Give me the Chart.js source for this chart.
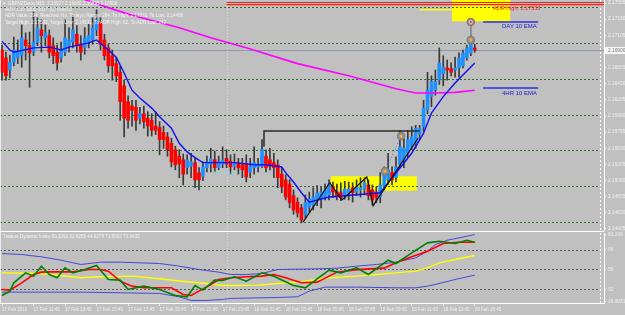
<!DOCTYPE html>
<html>
<head>
<meta charset="utf-8">
<script src="https://cdn.jsdelivr.net/npm/chart.js@4.4.1/dist/chart.umd.min.js"></script>
<style>
html, body { margin: 0; padding: 0; background: #c0c0c0; }
#wrap { position: relative; width: 625px; height: 315px; overflow: hidden; background: #c0c0c0; font-family: 'Liberation Sans', Arial, sans-serif; }
canvas { position: absolute; left: 0; }
#main { top: 0; }
#tdi { top: 232px; }
.t { position: absolute; white-space: nowrap; font-size: 4.6px; line-height: 6px; color: #f4f4f4; z-index: 5; }
.sep { position: absolute; background: #ffffff; z-index: 4; }
</style>
</head>
<body>
<div id="wrap">
  <canvas id="main" width="625" height="231"></canvas>
  <canvas id="tdi" width="625" height="83"></canvas>
  <div class="sep" style="left:0;top:231px;width:604px;height:1px;"></div>
  <div class="sep" style="left:0;top:0;width:1px;height:303px;opacity:.7"></div>

  <div class="t" style="left:2px;top:1px;">&#9660; GBPNZDecn,M15&nbsp; 2.16927 2.16930 2.16895 2.16900</div>
  <div class="t" style="left:5px;top:7px;">ADR 1.30 2005-2017 (C) Mod 01</div>
  <div class="t" style="left:5px;top:13px;">ADR Value: 294, Reached: No, Today's Range: 284, To High: 2.17533, To Low: 2.14466</div>
  <div class="t" style="left:5px;top:20px;">Target High: 2.17533, Target Low: 2.14531, To ADR High: 62, To ADR Low: 242</div>
  <div class="t" style="left:493px;top:5px;color:#ff2020;font-size:5.5px;">ADR High: 2.17533</div>
  <div class="t" style="left:502px;top:23px;color:#2020d0;font-size:6px;">DAY 10 EMA</div>
  <div class="t" style="left:502px;top:90px;color:#2020d0;font-size:6px;">4HR 10 EMA</div>
  <div class="t" style="left:213px;top:170px;color:#9ccfdc;font-size:5px;">ASIA Start</div>
  <div class="t" style="left:3px;top:234px;">Traders Dynamic Index 80.3292 62.6285 44.9279 71.9502 73.9435</div>
</div>
<script>
// GBPNZD M15, 17 Feb 2016 09:45 -> 18 Feb 2016 15:45 (121 bars)

const candleOpen = [
  2.1690, 2.1679, 2.1662, 2.1673, 2.1679, 2.1683, 2.1704, 2.1696, 2.1687, 2.1701,
  2.1718, 2.1707, 2.1710, 2.1696, 2.1687, 2.1679, 2.1687, 2.1696, 2.1701, 2.1712,
  2.1698, 2.1693, 2.1701, 2.1704, 2.1718, 2.1728, 2.1704, 2.1693, 2.1682, 2.1671,
  2.1659, 2.1640, 2.1618, 2.1612, 2.1610, 2.1595, 2.1601, 2.1595, 2.1592, 2.1584,
  2.1582, 2.1575, 2.1569, 2.1560, 2.1551, 2.1542, 2.1537, 2.1526, 2.1528, 2.1533,
  2.1519, 2.1514, 2.1526, 2.1531, 2.1537, 2.1526, 2.1531, 2.1539, 2.1535, 2.1528,
  2.1533, 2.1530, 2.1531, 2.1520, 2.1526, 2.1527, 2.1528, 2.1542, 2.1537, 2.1533,
  2.1530, 2.1517, 2.1509, 2.1503, 2.1487, 2.1478, 2.1470, 2.1460, 2.1471, 2.1474,
  2.1481, 2.1484, 2.1485, 2.1488, 2.1500, 2.1492, 2.1491, 2.1487, 2.1491, 2.1498,
  2.1492, 2.1495, 2.1496, 2.1502, 2.1495, 2.1492, 2.1485, 2.1500, 2.1509, 2.1519,
  2.1512, 2.1531, 2.1537, 2.1546, 2.1555, 2.1560, 2.1573, 2.1583, 2.1606, 2.1625,
  2.1634, 2.1648, 2.1657, 2.1665, 2.1664, 2.1662, 2.1665, 2.1668, 2.1679, 2.1686,
  2.1693
];
const candleHigh = [
  2.1697, 2.1687, 2.1683, 2.1708, 2.1704, 2.1725, 2.1714, 2.1715, 2.1743, 2.1735,
  2.1732, 2.1725, 2.1718, 2.1707, 2.1697, 2.1701, 2.1732, 2.1721, 2.1738, 2.1724,
  2.1710, 2.1721, 2.1726, 2.1735, 2.1746, 2.1735, 2.1712, 2.1698, 2.1690, 2.1679,
  2.1668, 2.1648, 2.1626, 2.1620, 2.1620, 2.1610, 2.1612, 2.1604, 2.1601, 2.1604,
  2.1590, 2.1584, 2.1575, 2.1567, 2.1556, 2.1551, 2.1545, 2.1544, 2.1546, 2.1539,
  2.1526, 2.1534, 2.1542, 2.1553, 2.1549, 2.1542, 2.1555, 2.1551, 2.1544, 2.1545,
  2.1539, 2.1539, 2.1544, 2.1539, 2.1555, 2.1539, 2.1565, 2.1551, 2.1553, 2.1546,
  2.1537, 2.1526, 2.1516, 2.1509, 2.1495, 2.1484, 2.1475, 2.1488, 2.1492, 2.1498,
  2.1501, 2.1499, 2.1503, 2.1509, 2.1506, 2.1503, 2.1505, 2.1507, 2.1506, 2.1505,
  2.1509, 2.1512, 2.1512, 2.1509, 2.1502, 2.1499, 2.1519, 2.1527, 2.1546, 2.1527,
  2.1541, 2.1578, 2.1567, 2.1578, 2.1583, 2.1585, 2.1585, 2.1620, 2.1659, 2.1654,
  2.1662, 2.1693, 2.1682, 2.1676, 2.1672, 2.1680, 2.1686, 2.1690, 2.1697, 2.1711,
  2.1698
];
const candleLow = [
  2.1648, 2.1648, 2.1651, 2.1668, 2.1671, 2.1666, 2.1676, 2.1638, 2.1682, 2.1696,
  2.1687, 2.1696, 2.1679, 2.1671, 2.1662, 2.1673, 2.1682, 2.1687, 2.1693, 2.1687,
  2.1676, 2.1684, 2.1693, 2.1698, 2.1710, 2.1690, 2.1676, 2.1659, 2.1648, 2.1646,
  2.1592, 2.1569, 2.1581, 2.1584, 2.1578, 2.1587, 2.1581, 2.1570, 2.1570, 2.1572,
  2.1544, 2.1553, 2.1542, 2.1527, 2.1523, 2.1512, 2.1502, 2.1517, 2.1512, 2.1498,
  2.1495, 2.1508, 2.1520, 2.1520, 2.1520, 2.1523, 2.1526, 2.1526, 2.1517, 2.1523,
  2.1517, 2.1512, 2.1506, 2.1512, 2.1517, 2.1520, 2.1526, 2.1520, 2.1523, 2.1512,
  2.1498, 2.1491, 2.1481, 2.1470, 2.1461, 2.1457, 2.1449, 2.1456, 2.1464, 2.1467,
  2.1473, 2.1470, 2.1481, 2.1481, 2.1484, 2.1481, 2.1480, 2.1482, 2.1481, 2.1478,
  2.1487, 2.1485, 2.1488, 2.1481, 2.1474, 2.1477, 2.1477, 2.1495, 2.1503, 2.1502,
  2.1506, 2.1526, 2.1526, 2.1540, 2.1551, 2.1553, 2.1565, 2.1576, 2.1601, 2.1611,
  2.1627, 2.1642, 2.1640, 2.1648, 2.1654, 2.1652, 2.1652, 2.1665, 2.1676, 2.1682,
  2.1687
];
const candleClose = [
  2.1659, 2.1654, 2.1673, 2.1690, 2.1687, 2.1707, 2.1696, 2.1686, 2.1701, 2.1721,
  2.1710, 2.1714, 2.1687, 2.1682, 2.1672, 2.1691, 2.1707, 2.1704, 2.1718, 2.1696,
  2.1687, 2.1707, 2.1710, 2.1721, 2.1732, 2.1698, 2.1682, 2.1668, 2.1668, 2.1654,
  2.1618, 2.1595, 2.1592, 2.1606, 2.1592, 2.1601, 2.1590, 2.1584, 2.1578, 2.1578,
  2.1565, 2.1565, 2.1551, 2.1534, 2.1530, 2.1531, 2.1517, 2.1537, 2.1534, 2.1509,
  2.1509, 2.1527, 2.1534, 2.1538, 2.1526, 2.1534, 2.1537, 2.1531, 2.1527, 2.1533,
  2.1526, 2.1523, 2.1513, 2.1528, 2.1533, 2.1531, 2.1551, 2.1526, 2.1528, 2.1526,
  2.1512, 2.1499, 2.1485, 2.1477, 2.1467, 2.1463, 2.1453, 2.1477, 2.1482, 2.1485,
  2.1491, 2.1492, 2.1495, 2.1503, 2.1492, 2.1485, 2.1484, 2.1496, 2.1496, 2.1491,
  2.1499, 2.1498, 2.1505, 2.1487, 2.1481, 2.1485, 2.1502, 2.1520, 2.1523, 2.1509,
  2.1527, 2.1555, 2.1553, 2.1565, 2.1569, 2.1581, 2.1581, 2.1609, 2.1634, 2.1646,
  2.1646, 2.1672, 2.1666, 2.1662, 2.1659, 2.1665, 2.1679, 2.1686, 2.1693, 2.1704,
  2.1690
];

// [bar index, price]
const ema10 = [
  [0, 2.1702], [2, 2.1690], [3, 2.1687], [8, 2.1693], [12, 2.1694], [15, 2.1690],
  [17, 2.1694], [22, 2.1700], [24, 2.1704], [27, 2.1690], [29, 2.1680], [31, 2.1658],
  [33, 2.1634], [35, 2.1623], [38, 2.1609], [40, 2.1597], [43, 2.1581], [45, 2.1560],
  [47, 2.1548], [49, 2.1540], [51, 2.1533], [55, 2.1533], [59, 2.1533], [64, 2.1530],
  [67, 2.1530], [71, 2.1527], [72, 2.1519], [74, 2.1506], [76, 2.1491], [78, 2.1478],
  [83, 2.1485], [96, 2.1491], [98, 2.1505], [104, 2.1546], [107, 2.1574], [109, 2.1602],
  [112, 2.1625], [115, 2.1644], [120, 2.1672]
];
const ma200 = [
  [21, 2.1760], [32, 2.1740], [45, 2.1721], [53, 2.1707], [62, 2.1693], [75, 2.1671],
  [88, 2.1654], [100, 2.1636], [105, 2.1630], [110, 2.1630], [115, 2.1631], [120, 2.1634]
];
const zigzag = [[76.4, 2.1450], [83.2, 2.1505], [86.3, 2.1481], [92.6, 2.1513], [94.2, 2.1473], [105.6, 2.1567]];
const breakoutLine = [[66.5, 2.1555], [66.5, 2.1577], [106, 2.1577]];
const projection = [[97.2, 2.1521], [101.3, 2.1570]];
const signalDots = [[97.2, 2.1521], [101.3, 2.1570], [119, 2.1704]];
const alertDots = [[119, 2.1729]];
const alertStem = [[119, 2.1729], [119, 2.1704]];
const adrHighLines = [2.17562, 2.17533];
const adrStart = 57;
const dailyLevel = [[106, 2.1746], [114.2, 2.1746]];
const dayEmaMark = [[122.1, 2.1729], [136.1, 2.1729]];
const h4EmaMark = [[122.1, 2.1637], [136.1, 2.1637]];
const yellowBoxes = [[83.5, 105.3, 2.1514, 2.1494], [114.2, 129, 2.1765, 2.1730]];
const roundLevels = [2.175, 2.170, 2.165, 2.160, 2.155, 2.150, 2.145];
const priceTicks = [2.17555, 2.17330, 2.17105, 2.16880, 2.16655, 2.16430, 2.16205, 2.15980,
                    2.15755, 2.15530, 2.15305, 2.15080, 2.14855, 2.14630, 2.14405];
const daySeparator = 57;

// Traders Dynamic Index, [bar index, value]
const tdiUpper = [
  [0, 64.4], [5, 63.5], [10, 61.4], [15, 58.4], [20, 54.5], [25, 56.6], [30, 56.6], [35, 56],
  [40, 55.4], [45, 53], [50, 50], [55, 47.6], [58, 45.5], [62, 45.5], [66, 46.4], [70, 50],
  [75, 50.3], [80, 50.6], [85, 51.2], [90, 53], [95, 54.5], [100, 56.6], [105, 60.5],
  [108, 66.5], [110, 72.5], [113, 76.4], [116, 78.5], [120, 81.5]
];
const tdiLower = [
  [0, 29.6], [10, 29.6], [20, 29.6], [30, 29], [40, 28.4], [45, 25.4], [48, 22.1], [52, 22.1],
  [56, 23], [58, 23.9], [65, 24.5], [70, 24.8], [75, 25.4], [78, 30.5], [82, 34.1], [90, 34.1],
  [100, 33.5], [105, 33.5], [108, 35], [110, 36.5], [115, 41], [120, 44.9]
];
const tdiMid = [
  [0, 47], [10, 46.4], [20, 42.5], [25, 43.4], [33, 44], [40, 41.6], [47, 38.9], [52, 37.4],
  [56, 35.6], [60, 35.6], [65, 35.9], [70, 37.4], [76, 38.9], [83, 42.5], [90, 44], [95, 45.5],
  [100, 47], [105, 48.5], [108, 51.5], [111, 56], [115, 59], [120, 62.6]
];
const tdiSignal = [
  [0, 32], [2, 31.4], [5, 38], [8, 45.5], [10, 47.6], [13, 47.9], [18, 47.9], [22, 50], [25, 50],
  [27, 48.5], [30, 39.5], [33, 35], [36, 33.5], [43, 33.5], [46, 27.5], [48, 26.6], [50, 30.5],
  [53, 36.5], [55, 41], [58, 42.5], [62, 43.4], [66, 44], [69, 45.5], [72, 42.5], [76, 38],
  [80, 38.6], [85, 47.6], [89, 49.4], [93, 50.6], [97, 51.2], [100, 56], [104, 61.4],
  [108, 66.5], [112, 73.4], [116, 74.6], [120, 74.6]
];
const tdiPrice = [
  [0, 26.6], [2, 30.5], [3, 38], [6, 47], [8, 44], [10, 53], [12, 45.5], [14, 42.5], [16, 51.5],
  [18, 47], [21, 50], [24, 53.6], [27, 41], [30, 40.4], [32, 32], [36, 35], [40, 32], [44, 26.6],
  [47, 25.4], [49, 35.6], [51, 31.4], [54, 40.4], [56, 40.1], [59, 43.4], [62, 39.5], [66, 47],
  [69, 44], [74, 35.6], [77, 33.5], [80, 41.6], [83, 49.4], [86, 47], [90, 51.5], [93, 45.5],
  [98, 58.4], [100, 55.4], [104, 65], [108, 74], [111, 75.5], [115, 73.4], [118, 76.4], [120, 74.6]
];
const tdiTicks = [21.3, 32, 50, 68, 81.1];
const tdiTickLabels = ['19.0031', '32', '50', '68', '83.249'];
const tdiLevels = [32, 50, 68];

const timeTickIdx = [0, 8, 16, 24, 32, 40, 48, 56, 64, 72, 80, 88, 96, 104, 112, 120];
const timeLabels = ['17 Feb 2016', '17 Feb 11:45', '17 Feb 13:45', '17 Feb 15:45', '17 Feb 17:45',
  '17 Feb 19:45', '17 Feb 21:45', '17 Feb 23:45', '18 Feb 01:45', '18 Feb 03:45', '18 Feb 05:45',
  '18 Feb 07:45', '18 Feb 09:45', '18 Feb 11:45', '18 Feb 13:45', '18 Feb 15:45'];

const X_MIN = -0.508, X_MAX = 152.8;
const AXIS_TXT = '#f0f0f0';
const BULL = '#1e90ff', BEAR = '#ff0000', WICK = '#3a3a3a';

const pts = arr => arr.map(p => ({ x: p[0], y: p[1] }));

function line(ctx, x0, y0, x1, y1) {
  ctx.beginPath(); ctx.moveTo(x0, y0); ctx.lineTo(x1, y1); ctx.stroke();
}

function lineSet(data, color, width, order, extra) {
  return Object.assign({
    type: 'line', data: pts(data), borderColor: color, borderWidth: width,
    pointRadius: 0, fill: false, tension: 0, order: order
  }, extra || {});
}

const lastClose = candleClose[candleClose.length - 1];

const priceMarks = {
  id: 'priceMarks',
  beforeDatasetsDraw(chart) {
    const { ctx, chartArea: a, scales: { x, y } } = chart;
    ctx.save();
    ctx.fillStyle = '#ffff00';
    for (const b of yellowBoxes) {
      const x0 = x.getPixelForValue(b[0]), x1 = x.getPixelForValue(b[1]);
      const y0 = Math.max(a.top, y.getPixelForValue(b[2])), y1 = y.getPixelForValue(b[3]);
      ctx.fillRect(x0, y0, x1 - x0, y1 - y0);
    }
    ctx.lineWidth = 1;
    ctx.strokeStyle = '#2f6e2f';
    ctx.setLineDash([2, 2]);
    for (const v of roundLevels) {
      const py = Math.round(y.getPixelForValue(v)) + 0.5;
      line(ctx, a.left, py, a.right - 4, py);
    }
    ctx.strokeStyle = '#dcdcdc';
    ctx.setLineDash([1, 2]);
    const dx = Math.round(x.getPixelForValue(daySeparator)) + 0.5;
    line(ctx, dx, a.top, dx, a.bottom);
    ctx.strokeStyle = '#ffffff';
    ctx.setLineDash([2, 2]);
    line(ctx, a.right - 3.5, a.top, a.right - 3.5, a.bottom);
    ctx.setLineDash([]);
    ctx.strokeStyle = '#8d9aab';
    const cy = Math.round(y.getPixelForValue(lastClose)) + 0.5;
    line(ctx, a.left, cy, a.right, cy);
    ctx.restore();
  },
  afterDraw(chart) {
    const { ctx, chartArea: a, scales: { y } } = chart;
    const cy = Math.round(y.getPixelForValue(lastClose));
    ctx.save();
    ctx.fillStyle = '#f6f6f6';
    ctx.fillRect(a.right + 1, cy - 3, 21, 7);
    ctx.fillStyle = '#777777';
    ctx.font = '4.8px "Liberation Sans", Arial, sans-serif';
    ctx.textBaseline = 'middle';
    ctx.fillText(lastClose.toFixed(5), a.right + 4, cy + 0.5);
    ctx.restore();
  }
};

const tdiMarks = {
  id: 'tdiMarks',
  beforeDatasetsDraw(chart) {
    const { ctx, chartArea: a, scales: { x, y } } = chart;
    ctx.save();
    ctx.lineWidth = 1;
    ctx.strokeStyle = '#5a5a5a';
    ctx.setLineDash([2, 2]);
    for (const v of tdiLevels) {
      const py = Math.round(y.getPixelForValue(v)) + 0.5;
      line(ctx, a.left, py, a.right - 4, py);
    }
    ctx.strokeStyle = '#dcdcdc';
    ctx.setLineDash([1, 2]);
    const dx = Math.round(x.getPixelForValue(daySeparator)) + 0.5;
    line(ctx, dx, a.top, dx, a.bottom);
    ctx.strokeStyle = '#ffffff';
    ctx.setLineDash([2, 2]);
    line(ctx, a.right - 3.5, a.top, a.right - 3.5, a.bottom);
    ctx.restore();
  }
};

const wickData = candleLow.map((l, i) => ({ x: i, y: [l, candleHigh[i]] }));
const bodyData = candleOpen.map((o, i) => ({ x: i, y: [o, candleClose[i]] }));
const bodyColors = candleOpen.map((o, i) => candleClose[i] >= o ? BULL : BEAR);

const fixY = s => { s.width = 21; s.paddingTop = 0; s.paddingBottom = 0; };

new Chart(document.getElementById('main'), {
  type: 'bar',
  data: {
    datasets: [
      { type: 'bar', data: wickData, backgroundColor: WICK, barThickness: 1, grouped: false, order: 10 },
      { type: 'bar', data: bodyData, backgroundColor: bodyColors, barThickness: 3, grouped: false, order: 9 },
      lineSet(ma200, '#ff00ff', 1.6, 6),
      lineSet(ema10, '#1010f0', 1.4, 5),
      lineSet([[adrStart, adrHighLines[0]], [X_MAX, adrHighLines[0]]], '#ff1a1a', 1.2, 4),
      lineSet([[adrStart, adrHighLines[1]], [X_MAX, adrHighLines[1]]], '#ff1a1a', 1.2, 4),
      lineSet(dailyLevel, '#ffff00', 1.5, 4),
      lineSet(dayEmaMark, '#3030e0', 1.5, 4),
      lineSet(h4EmaMark, '#3030e0', 1.5, 4),
      lineSet(breakoutLine, '#2a2a2a', 1.5, 3),
      lineSet(zigzag, '#111111', 1.2, 3),
      lineSet(projection, '#3b6bff', 1, 3, { borderDash: [1, 2] }),
      lineSet(alertStem, '#8a8a8a', 1, 2),
      lineSet(signalDots, '#707070', 1, 1, { showLine: false, pointRadius: 3.8, pointBackgroundColor: '#9a9090', pointBorderColor: '#767676' }),
      lineSet(alertDots, '#707070', 1, 1, { showLine: false, pointRadius: 3.8, pointBackgroundColor: '#9a9090', pointBorderColor: '#767676' }),
      lineSet(signalDots, '#ffb030', 0, 0, { showLine: false, pointRadius: 1.4, pointBackgroundColor: '#ffb030', pointBorderWidth: 0 }),
      lineSet(alertDots, '#e02020', 0, 0, { showLine: false, pointRadius: 1.6, pointBackgroundColor: '#ff3030', pointBorderColor: '#ffffff', pointBorderWidth: 0.6 })
    ]
  },
  options: {
    responsive: false,
    animation: false,
    events: [],
    layout: { padding: 0, autoPadding: false },
    plugins: { legend: { display: false }, tooltip: { enabled: false } },
    scales: {
      x: { type: 'linear', min: X_MIN, max: X_MAX, offset: false, display: false, grid: { offset: false } },
      y: {
        position: 'right', min: 2.14377, max: 2.17597,
        afterBuildTicks: s => { s.ticks = priceTicks.map(v => ({ value: v })); },
        afterFit: fixY,
        ticks: { color: AXIS_TXT, font: { size: 4.8, family: "'Liberation Sans', Arial, sans-serif" }, padding: 2,
                 callback: v => v.toFixed(5) },
        grid: { drawOnChartArea: false, drawTicks: true, tickLength: 2, color: '#ffffff' },
        border: { display: true, color: '#ffffff', width: 1 }
      }
    }
  },
  plugins: [priceMarks]
});

new Chart(document.getElementById('tdi'), {
  type: 'line',
  data: {
    datasets: [
      lineSet(tdiUpper, '#4646d8', 1, 5),
      lineSet(tdiLower, '#4646d8', 1, 5),
      lineSet(tdiMid, '#ffff00', 1.4, 4),
      lineSet(tdiSignal, '#ff0000', 1.6, 3),
      lineSet(tdiPrice, '#008000', 1.6, 2)
    ]
  },
  options: {
    responsive: false,
    animation: false,
    events: [],
    layout: { padding: { top: 1 }, autoPadding: false },
    plugins: { legend: { display: false }, tooltip: { enabled: false } },
    scales: {
      x: {
        type: 'linear', min: X_MIN, max: X_MAX, offset: false,
        afterBuildTicks: s => { s.ticks = timeTickIdx.map(v => ({ value: v })); },
        afterFit: s => { s.height = 12; s.paddingLeft = 0; s.paddingRight = 0; },
        ticks: { color: AXIS_TXT, align: 'start', autoSkip: false, maxRotation: 0, padding: 1,
                 font: { size: 4.5, family: "'Liberation Sans', Arial, sans-serif" },
                 callback: v => timeLabels[timeTickIdx.indexOf(v)] },
        grid: { drawOnChartArea: false, drawTicks: true, tickLength: 3, color: '#e8e8e8' },
        border: { display: true, color: '#ffffff', width: 1 }
      },
      y: {
        position: 'right', min: 19.8, max: 82.9,
        afterBuildTicks: s => { s.ticks = tdiTicks.map(v => ({ value: v })); },
        afterFit: fixY,
        ticks: { color: AXIS_TXT, font: { size: 4.8, family: "'Liberation Sans', Arial, sans-serif" }, padding: 2,
                 callback: v => tdiTickLabels[tdiTicks.indexOf(v)] },
        grid: { drawOnChartArea: false, drawTicks: true, tickLength: 2, color: '#ffffff' },
        border: { display: true, color: '#ffffff', width: 1 }
      }
    }
  },
  plugins: [tdiMarks]
});
</script>
</body>
</html>
